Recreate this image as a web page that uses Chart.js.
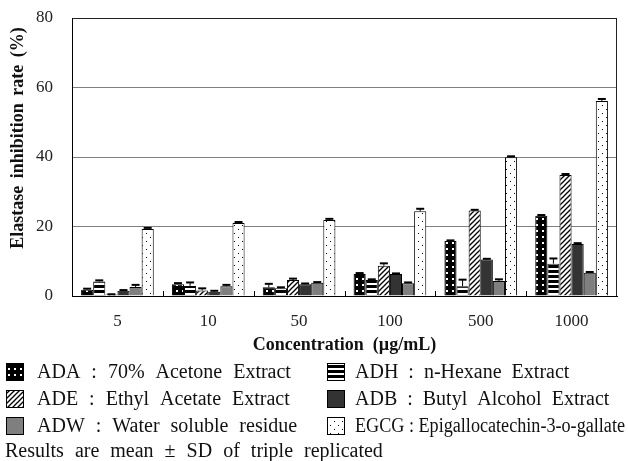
<!DOCTYPE html>
<html>
<head>
<meta charset="utf-8">
<script src="https://cdn.jsdelivr.net/npm/chart.js@4.4.1/dist/chart.umd.min.js"></script>
<style>
  html, body { margin: 0; padding: 0; background: #fff; }
  #wrap { width: 628px; height: 461px; position: relative; }
</style>
</head>
<body>
<div id="wrap"><canvas id="chart"></canvas></div>
<script>
// Data
const categories = ["5", "10", "50", "100", "500", "1000"];
const yTicks = [0, 20, 40, 60, 80];

const adaValues = [1.8, 3.4, 2.5, 6.3, 15.8, 23.1];
const adhValues = [4.2, 2.9, 2.2, 4.6, 2.8, 9.3];
const adeValues = [0.4, 1.6, 4.6, 8.7, 24.6, 34.8];
const adbValues = [1.5, 1.2, 3.4, 6.3, 10.5, 15.0];
const adwValues = [2.6, 2.8, 3.8, 3.7, 4.3, 6.7];
const egcgValues = [19.3, 21.0, 21.9, 24.4, 39.9, 56.1];

const adaSD = [0.3, 0.3, 1.0, 0.3, 0.2, 0.2];
const adhSD = [0.3, 1.0, 0.3, 0.2, 1.9, 1.5];
const adeSD = [0.1, 0.6, 0.4, 0.7, 0.2, 0.3];
const adbSD = [0.2, 0.3, 0.2, 0.2, 0.2, 0.2];
const adwSD = [0.6, 0.4, 0.2, 0.2, 0.5, 0.2];
const egcgSD = [0.3, 0.3, 0.3, 0.7, 0.3, 0.6];

const seriesNames = ["ADA", "ADH", "ADE", "ADB", "ADW", "EGCG"];
const legendLabels = [
    "ADA : 70% Acetone Extract",
    "ADH : n-Hexane Extract",
    "ADE : Ethyl Acetate Extract",
    "ADB : Butyl Alcohol Extract",
    "ADW : Water soluble residue",
    "EGCG : Epigallocatechin-3-o-gallate",
];
const noteText = "Results are mean \u00b1 SD of triple replicated";
const yTitle = "Elastase inhibition rate (%)";
const xTitle = "Concentration  (\u00b5g/mL)";

// Fill patterns
function makePattern(w, h, draw) {
    const c = document.createElement("canvas");
    c.width = w;
    c.height = h;
    const g = c.getContext("2d");
    draw(g, w, h);
    return g.createPattern(c, "repeat");
}

const adaFill = makePattern(6, 6, (g) => {
    g.fillStyle = "#000";
    g.fillRect(0, 0, 6, 6);
    g.fillStyle = "#fff";
    g.fillRect(2, 2, 2, 2);
});
const adhFill = makePattern(5, 5, (g) => {
    g.fillStyle = "#fff";
    g.fillRect(0, 0, 5, 5);
    g.fillStyle = "#000";
    g.fillRect(0, 0, 5, 3);
});
const adeFill = makePattern(5, 5, (g) => {
    g.fillStyle = "#fff";
    g.fillRect(0, 0, 5, 5);
    g.strokeStyle = "#000";
    g.lineWidth = 1.3;
    for (let k = -5; k <= 5; k += 5) {
        g.beginPath();
        g.moveTo(k - 1, 6);
        g.lineTo(k + 6, -1);
        g.stroke();
    }
});
const egcgFill = makePattern(8, 8, (g) => {
    g.fillStyle = "#fff";
    g.fillRect(0, 0, 8, 8);
    g.fillStyle = "#000";
    g.fillRect(2, 1, 1, 1);
    g.fillRect(6, 5, 1, 1);
});

const fills = [adaFill, adhFill, adeFill, "#333333", "#7f7f7f", egcgFill];
const values = [adaValues, adhValues, adeValues, adbValues, adwValues, egcgValues];
const sds = [adaSD, adhSD, adeSD, adbSD, adwSD, egcgSD];

const serif = "'Liberation Serif', 'Times New Roman', serif";

// Error bars, frame and custom legend
const extrasPlugin = {
    id: "extras",
    afterDatasetsDraw(chart) {
        const ctx = chart.ctx;
        const y = chart.scales.y;
        ctx.save();
        ctx.strokeStyle = "#000";
        chart.data.datasets.forEach((ds, i) => {
            const meta = chart.getDatasetMeta(i);
            meta.data.forEach((bar, j) => {
                const top = y.getPixelForValue(ds.data[j] + sds[i][j]);
                ctx.lineWidth = 1;
                ctx.beginPath();
                ctx.moveTo(bar.x, bar.y);
                ctx.lineTo(bar.x, top);
                ctx.stroke();
                ctx.lineWidth = 2;
                ctx.beginPath();
                ctx.moveTo(bar.x - 4, top);
                ctx.lineTo(bar.x + 4, top);
                ctx.stroke();
            });
        });
        ctx.restore();
    },
    afterDraw(chart) {
        const ctx = chart.ctx;
        const a = chart.chartArea;
        const x = chart.scales.x;
        ctx.save();
        // right frame
        ctx.strokeStyle = "#222";
        ctx.lineWidth = 1;
        ctx.beginPath();
        ctx.moveTo(a.right - 0.5, a.top);
        ctx.lineTo(a.right - 0.5, a.bottom);
        ctx.stroke();
        // category boundary ticks
        ctx.strokeStyle = "#000";
        const step = x.getPixelForValue(1) - x.getPixelForValue(0);
        for (let i = 1; i < categories.length; i++) {
            const px = Math.round(x.getPixelForValue(i) - step / 2) + 0.5;
            ctx.beginPath();
            ctx.moveTo(px, a.bottom);
            ctx.lineTo(px, a.bottom - 5);
            ctx.stroke();
        }
        // y axis title
        ctx.fillStyle = "#111";
        ctx.font = "bold 18px " + serif;
        ctx.wordSpacing = "3px";
        ctx.textAlign = "center";
        ctx.textBaseline = "middle";
        ctx.translate(18, 138);
        ctx.rotate(-Math.PI / 2);
        ctx.fillText(yTitle, 0, 0);
        ctx.restore();

        // legend
        ctx.save();
        ctx.font = "20px " + serif;
        ctx.fillStyle = "#111";
        ctx.textBaseline = "middle";
        ctx.textAlign = "left";
        const rowsY = [372, 399, 426];
        const colX = [[6, 37], [327, 355]];
        legendLabels.forEach((label, i) => {
            const row = Math.floor(i / 2);
            const col = i % 2;
            const sx = colX[col][0];
            const sy = rowsY[row] - 9;
            ctx.fillStyle = fills[i];
            ctx.fillRect(sx, sy, 18, 18);
            ctx.strokeStyle = "#000";
            ctx.lineWidth = 1;
            ctx.strokeRect(sx + 0.5, sy + 0.5, 17, 17);
            ctx.fillStyle = "#111";
            ctx.wordSpacing = col === 0 ? "6px" : "5px";
            if (i === 5) {
                ctx.wordSpacing = "0px";
                ctx.fillText(label, colX[col][1], rowsY[row] + 1, 270);
            } else {
                ctx.fillText(label, colX[col][1], rowsY[row] + 1);
            }
        });
        ctx.wordSpacing = "6px";
        ctx.fillText(noteText, 5, 452);
        ctx.restore();
    },
};

const ctx = document.getElementById("chart").getContext("2d");
new Chart(ctx, {
    type: "bar",
    data: {
        labels: categories,
        datasets: seriesNames.map((name, i) => ({
            label: name,
            data: values[i],
            backgroundColor: fills[i],
            borderColor: "#000",
            borderWidth: 1,
            barPercentage: 1.0,
            categoryPercentage: 0.8,
        })),
    },
    options: {
        responsive: true,
        maintainAspectRatio: false,
        animation: false,
        layout: {
            padding: { top: 18, right: 11, bottom: 105, left: 0 },
        },
        plugins: {
            legend: { display: false },
            tooltip: { enabled: false },
        },
        scales: {
            x: {
                afterFit(scale) {
                    scale.height = 60;
                },
                grid: { display: false, drawTicks: false },
                border: { color: "#000", width: 1 },
                ticks: {
                    padding: 15,
                    color: "#222",
                    font: { family: serif, size: 17 },
                },
                title: {
                    display: true,
                    text: xTitle,
                    color: "#111",
                    padding: { top: 1, bottom: 0 },
                    font: { family: serif, size: 18, weight: "bold" },
                },
            },
            y: {
                min: 0,
                max: 80,
                afterFit(scale) {
                    scale.width = 72;
                },
                afterBuildTicks(scale) {
                    scale.ticks = yTicks.map((v) => ({ value: v }));
                },
                grid: {
                    color: (c) => (c.tick && c.tick.value === 80 ? "#222" : "#808080"),
                    drawTicks: true,
                    tickLength: 19,
                    tickColor: "rgba(0,0,0,0)",
                },
                border: { color: "#000", width: 1 },
                ticks: {
                    padding: 0,
                    color: "#222",
                    font: { family: serif, size: 17 },
                },
            },
        },
    },
    plugins: [extrasPlugin],
});
</script>
</body>
</html>
